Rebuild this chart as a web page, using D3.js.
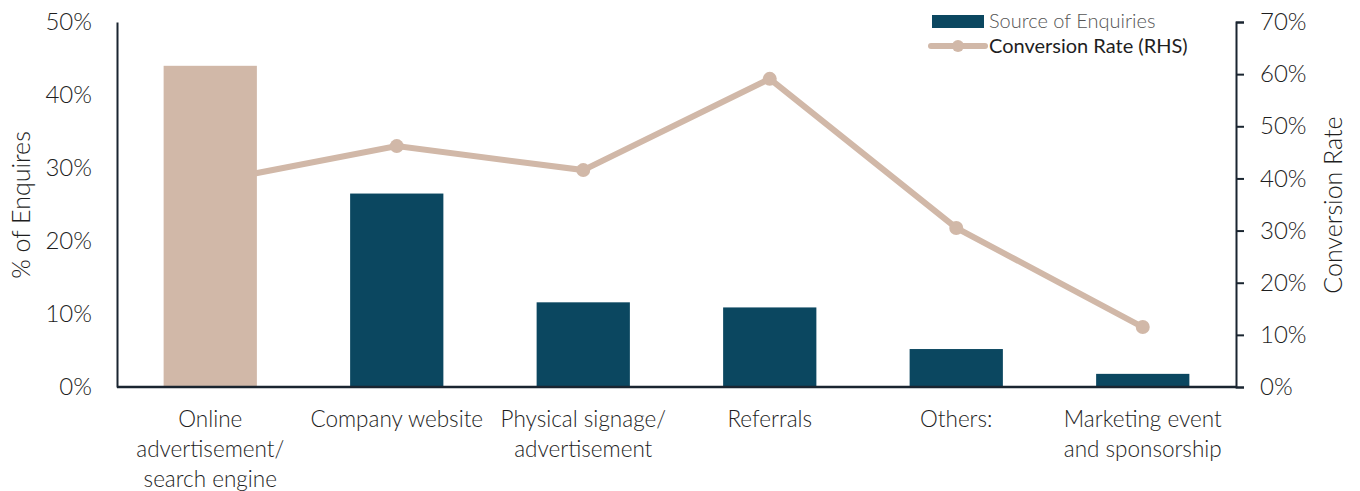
<!DOCTYPE html>
<html><head><meta charset="utf-8">
<script src="https://cdn.jsdelivr.net/npm/d3@7/dist/d3.min.js"></script>
<style>
body{margin:0;background:#fff;}
text{font-family:"Lato","Open Sans",sans-serif;font-weight:300;}
</style></head>
<body><svg id="c" width="1360" height="491"></svg>
<script>
const categories = [["Online","advertisement/","search engine"],["Company website"],["Physical signage/","advertisement"],["Referrals"],["Others:"],["Marketing event","and sponsorship"]];
const enquiries = [44.0, 26.5, 11.6, 10.9, 5.2, 1.8];
const conversion = [39.3, 46.2, 41.6, 59.1, 30.5, 11.5];
const leftTicks = [0,10,20,30,40,50];
const rightTicks = [0,10,20,30,40,50,60,70];
const barColors = ["#d1b8a8","#0b4760","#0b4760","#0b4760","#0b4760","#0b4760"];
const lineColor = "#d1b8a8";

const svg = d3.select("#c");
const m = {l:117, r:1236, t:22, b:387};
const x = d3.scaleBand().domain(d3.range(categories.length)).range([m.l, m.r]).paddingInner(0.5).paddingOuter(0.25);
const yL = d3.scaleLinear().domain([0,50]).range([m.b, m.t]);
const yR = d3.scaleLinear().domain([0,70]).range([m.b, m.t]);
const axisColor = "#1a2530";
const txt = "#1e1e1e";

// line
const line = d3.line().x((d,i)=>x(i)+x.bandwidth()/2).y(d=>yR(d));
svg.append("path").datum(conversion).attr("d", line).attr("fill","none")
  .attr("stroke", lineColor).attr("stroke-width",6);
svg.selectAll("circle.pt").data(conversion).enter().append("circle")
  .attr("cx",(d,i)=>x(i)+x.bandwidth()/2).attr("cy",d=>yR(d)).attr("r",7).attr("fill",lineColor);

// bars
svg.selectAll("rect.bar").data(enquiries).enter().append("rect")
  .attr("x",(d,i)=>x(i)).attr("width",x.bandwidth())
  .attr("y",d=>yL(d)).attr("height",d=>yL(0)-yL(d)).attr("fill",(d,i)=>barColors[i]);

// left axis
const gL = svg.append("g").attr("transform",`translate(${m.l},0)`)
  .call(d3.axisLeft(yL).tickValues(leftTicks).tickSize(0).tickPadding(25).tickFormat(d=>d+"%"));
gL.attr("font-family",null).attr("font-size",null);
gL.select(".domain").attr("stroke",axisColor).attr("stroke-width",2);
gL.selectAll("text").attr("font-size",24).attr("fill",txt);

// right axis
const gR = svg.append("g").attr("transform",`translate(${m.r},0)`)
  .call(d3.axisRight(yR).tickValues(rightTicks).tickSize(8).tickPadding(16).tickFormat(d=>d+"%"));
gR.attr("font-family",null).attr("font-size",null);
gR.select(".domain").attr("stroke",axisColor).attr("stroke-width",2);
gR.selectAll(".tick line").attr("stroke",axisColor).attr("stroke-width",2);
gR.selectAll("text").attr("font-size",24).attr("fill",txt);

// x axis line
svg.append("line").attr("x1",m.l).attr("x2",m.r).attr("y1",m.b).attr("y2",m.b)
  .attr("stroke",axisColor).attr("stroke-width",2.5);

// category labels
categories.forEach((lines,i)=>{
  const cx = x(i)+x.bandwidth()/2;
  const t = svg.append("text").attr("text-anchor","middle").attr("font-size",22.5).attr("fill",txt);
  lines.forEach((s,j)=>t.append("tspan").attr("x",cx).attr("y",427+j*30).text(s));
});

// axis titles
svg.append("text").attr("transform","translate(30,205) rotate(-90)").attr("text-anchor","middle")
  .attr("font-size",25).attr("fill",txt).text("% of Enquires");
svg.append("text").attr("transform","translate(1342,205) rotate(-90)").attr("text-anchor","middle")
  .attr("font-size",25).attr("fill",txt).text("Conversion Rate");

// legend
svg.append("rect").attr("x",932).attr("y",15).attr("width",52).attr("height",13).attr("fill","#0b4760");
svg.append("text").attr("x",989).attr("y",28).attr("font-size",20).attr("fill","#555").text("Source of Enquiries");
svg.append("line").attr("x1",931).attr("x2",985).attr("y1",46).attr("y2",46).attr("stroke",lineColor).attr("stroke-width",6).attr("stroke-linecap","round");
svg.append("circle").attr("cx",958).attr("cy",46).attr("r",6).attr("fill",lineColor);
svg.append("text").attr("x",989).attr("y",53).attr("font-size",20).attr("fill","#1e1e1e").style("font-weight",400).text("Conversion Rate (RHS)");
</script></body></html>
